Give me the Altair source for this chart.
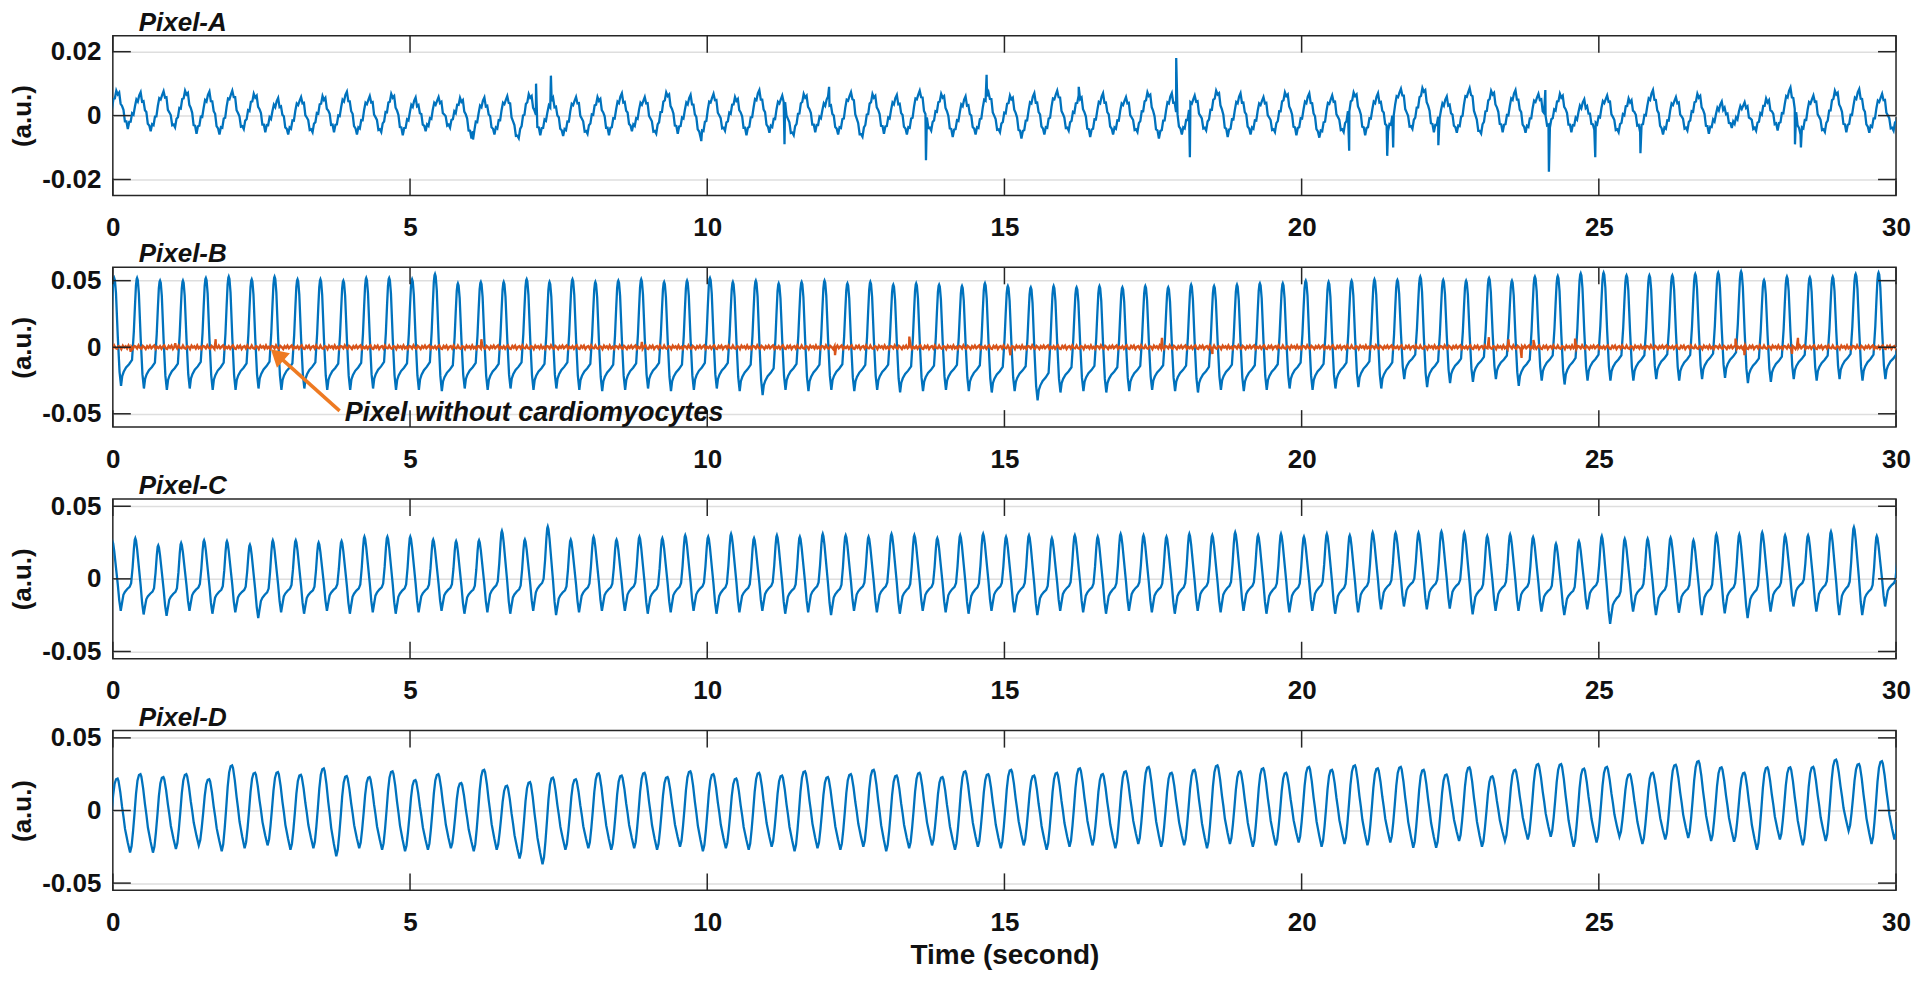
import altair as alt
import pandas as pd

FONT = "Liberation Sans"
W, H = 1786, 160
BLUE = "#0072BD"
ORANGE = "#D95319"
ARROWC = "#EE7A22"
FRAME = "#262626"
TXT = "#111111"
LW = 2.3

XTICKS = [0, 5, 10, 15, 20, 25, 30]

BEAT_T = [-0.363, 0.023, 0.408, 0.794, 1.179, 1.565, 1.950, 2.336, 2.721, 3.107, 3.492, 3.878,
          4.263, 4.649, 5.034, 5.420, 5.805, 6.191, 6.576, 6.962, 7.347, 7.733, 8.118, 8.504,
          8.889, 9.275, 9.660, 10.046, 10.431, 10.817, 11.202, 11.588, 11.973, 12.359, 12.744,
          13.130, 13.515, 13.901, 14.286, 14.672, 15.057, 15.443, 15.828, 16.214, 16.599, 16.985,
          17.370, 17.756, 18.141, 18.527, 18.912, 19.298, 19.683, 20.069, 20.454, 20.840, 21.225,
          21.611, 21.996, 22.382, 22.767, 23.153, 23.538, 23.924, 24.309, 24.695, 25.080, 25.466,
          25.851, 26.237, 26.622, 27.008, 27.393, 27.779, 28.164, 28.550, 28.935, 29.321, 29.706,
          30.092]
# timing offset of each pixel's beats relative to Pixel-B (s)
LAG = {"A": 0.06, "B": 0.0, "C": -0.03, "D": 0.057}

# ---- per-beat peak / trough values (a.u.) ----
A_PEAK = [0.005, 0.007,
          0.0063, 0.0068, 0.007, 0.0065, 0.007, 0.006, 0.0045, 0.005, 0.0053, 0.0065, 0.0053,
          0.006, 0.0047, 0.005, 0.0047, 0.0047, 0.0053, 0.006, 0.0045, 0.005, 0.005,
          0.006, 0.005, 0.0065, 0.0055, 0.006, 0.005, 0.007, 0.0055, 0.006, 0.005, 0.0065, 0.006,
          0.0055, 0.007, 0.006, 0.005, 0.0065, 0.0055, 0.006, 0.007, 0.0055, 0.006, 0.005, 0.0065,
          0.006, 0.0055, 0.007, 0.006, 0.005, 0.0065, 0.006, 0.0055, 0.0065, 0.006,
          0.0076, 0.0079, 0.005, 0.0078, 0.007, 0.007, 0.006, 0.006, 0.0041, 0.0055, 0.0045,
          0.007, 0.005, 0.006, 0.0034, 0.0034, 0.0045, 0.0078, 0.0055, 0.007, 0.0073, 0.006,
          0.005]
A_TROUGH = [-0.003, -0.003,
            -0.004, -0.003, -0.0045, -0.005, -0.0035, -0.004, -0.005, -0.0045, -0.004, -0.005,
            -0.0045, -0.005, -0.004, -0.003, -0.006, -0.005, -0.0065, -0.005, -0.0055, -0.005,
            -0.005,
            -0.004, -0.005, -0.0045, -0.006, -0.004, -0.005, -0.0045, -0.0055, -0.004, -0.005,
            -0.006, -0.0045, -0.005, -0.004, -0.0055, -0.005, -0.0045, -0.006, -0.005, -0.004,
            -0.0055, -0.005, -0.0045, -0.006, -0.005, -0.004, -0.0055, -0.005, -0.0045, -0.005,
            -0.006, -0.0045, -0.005, -0.004,
            -0.0035, -0.004, -0.0045, -0.005, -0.004, -0.0045, -0.003, -0.004, -0.0035, -0.0045,
            -0.004, -0.005, -0.004, -0.0045, -0.003, -0.004, -0.0035, -0.005, -0.0045, -0.004,
            -0.0045, -0.004,
            -0.004]
B_PEAK = [0.050, 0.052,
          0.052, 0.050, 0.050, 0.052, 0.053, 0.051, 0.053, 0.051, 0.051, 0.050, 0.052, 0.052,
          0.051, 0.055, 0.048, 0.049, 0.049, 0.051, 0.049, 0.051, 0.049,
          0.050, 0.051, 0.049, 0.050, 0.052, 0.049, 0.050, 0.048, 0.049, 0.050, 0.048, 0.049,
          0.047, 0.048, 0.047, 0.046, 0.048, 0.046, 0.045, 0.046, 0.045, 0.046, 0.045, 0.046,
          0.045, 0.047, 0.046, 0.047, 0.048, 0.048, 0.050, 0.049, 0.050, 0.051,
          0.0505, 0.053, 0.0505, 0.050, 0.052, 0.050, 0.053, 0.0535, 0.0555, 0.056, 0.054,
          0.054, 0.054, 0.055, 0.056, 0.057, 0.0505, 0.053, 0.0525, 0.053, 0.055, 0.056,
          0.054]
B_TROUGH = [-0.030, -0.029,
            -0.031, -0.032, -0.031, -0.032, -0.032, -0.031, -0.032, -0.031, -0.032, -0.032,
            -0.031, -0.032, -0.032, -0.033, -0.031, -0.032, -0.031, -0.032, -0.031, -0.032,
            -0.033,
            -0.032, -0.031, -0.033, -0.032, -0.031, -0.033, -0.036, -0.032, -0.033, -0.032,
            -0.033, -0.032, -0.034, -0.033, -0.032, -0.033, -0.034, -0.033, -0.040, -0.034,
            -0.033, -0.034, -0.033, -0.032, -0.033, -0.034, -0.032, -0.033, -0.032, -0.031,
            -0.032, -0.031, -0.030, -0.031,
            -0.024, -0.030, -0.027, -0.026, -0.024, -0.029, -0.025, -0.028, -0.025, -0.025,
            -0.025, -0.024, -0.025, -0.024, -0.023, -0.027, -0.026, -0.024, -0.025, -0.024,
            -0.025, -0.024,
            -0.025]
C_PEAK = [0.025, 0.026,
          0.028, 0.023, 0.0247, 0.0265, 0.026, 0.0235, 0.0265, 0.0265, 0.025, 0.026, 0.029,
          0.029, 0.029, 0.027, 0.026, 0.0265, 0.033, 0.027, 0.036, 0.027, 0.029,
          0.027, 0.029, 0.028, 0.030, 0.029, 0.031, 0.028, 0.030, 0.029, 0.031, 0.030, 0.029,
          0.031, 0.030, 0.028, 0.030, 0.031, 0.029, 0.030, 0.028, 0.030, 0.029, 0.031, 0.030,
          0.029, 0.031, 0.030, 0.032, 0.030, 0.031, 0.029, 0.031, 0.030, 0.032,
          0.0317, 0.0317, 0.0326, 0.0317, 0.0295, 0.0306, 0.0288, 0.0242, 0.026, 0.0295,
          0.0276, 0.0276, 0.0283, 0.0265, 0.0306, 0.0306, 0.032, 0.030, 0.030, 0.0326, 0.0356,
          0.0295,
          0.030]
C_TROUGH = [-0.022, -0.022,
            -0.0245, -0.0255, -0.022, -0.024, -0.023, -0.027, -0.023, -0.024, -0.022, -0.024,
            -0.023, -0.024, -0.023, -0.022, -0.024, -0.023, -0.024, -0.022, -0.025, -0.023,
            -0.022,
            -0.022, -0.024, -0.023, -0.022, -0.024, -0.023, -0.022, -0.024, -0.023, -0.025,
            -0.022, -0.023, -0.024, -0.022, -0.023, -0.024, -0.022, -0.023, -0.025, -0.022,
            -0.023, -0.024, -0.022, -0.023, -0.024, -0.022, -0.023, -0.022, -0.024, -0.023,
            -0.022, -0.024, -0.023, -0.021,
            -0.019, -0.021, -0.0205, -0.0244, -0.022, -0.022, -0.0225, -0.025, -0.021, -0.031,
            -0.0225, -0.025, -0.0233, -0.025, -0.0237, -0.027, -0.0225, -0.019, -0.0225, -0.025,
            -0.025, -0.019,
            -0.020]
D_PEAK = [0.020, 0.022,
          0.025, 0.023, 0.025, 0.0215, 0.031, 0.026, 0.0265, 0.0245, 0.029, 0.0237, 0.023,
          0.027, 0.021, 0.025, 0.019, 0.028, 0.017, 0.0196, 0.0226, 0.0215, 0.0256,
          0.024, 0.026, 0.023, 0.027, 0.025, 0.022, 0.026, 0.024, 0.027, 0.023, 0.025, 0.028,
          0.024, 0.026, 0.023, 0.027, 0.025, 0.028, 0.024, 0.026, 0.029, 0.025, 0.027, 0.030,
          0.026, 0.028, 0.031, 0.027, 0.029, 0.026, 0.030, 0.028, 0.031, 0.029,
          0.030, 0.028, 0.0247, 0.0297, 0.0235, 0.028, 0.032, 0.032, 0.0288, 0.030, 0.025,
          0.026, 0.0315, 0.034, 0.0297, 0.026, 0.0297, 0.0297, 0.030, 0.035, 0.032, 0.034,
          0.030]
D_TROUGH = [-0.025, -0.029,
            -0.029, -0.0265, -0.024, -0.028, -0.026, -0.024, -0.027, -0.026, -0.0315, -0.026,
            -0.027, -0.028, -0.027, -0.026, -0.028, -0.027, -0.033, -0.037, -0.027, -0.026,
            -0.027,
            -0.026, -0.027, -0.025, -0.028, -0.026, -0.027, -0.025, -0.028, -0.026, -0.027,
            -0.025, -0.028, -0.026, -0.024, -0.027, -0.025, -0.026, -0.024, -0.027, -0.025,
            -0.024, -0.026, -0.023, -0.025, -0.024, -0.026, -0.023, -0.025, -0.024, -0.022,
            -0.025, -0.023, -0.024, -0.022,
            -0.0256, -0.0256, -0.021, -0.025, -0.021, -0.020, -0.018, -0.025, -0.022, -0.018,
            -0.023, -0.020, -0.019, -0.021, -0.0215, -0.027, -0.020, -0.024, -0.021, -0.014,
            -0.023, -0.020,
            -0.022]

# fine ripple seen on the Pixel-A trace and on the flat (orange) trace, in 1e-3 a.u.
A_RIPPLE = [0.8, -0.5, 1.1, -0.9, 0.3, 1.2, -0.7, 0.2, -1.1, 0.6, -0.3, 0.9, -1.0, 0.4, -0.6, 1.1,
            -0.4, 0.9, -1.1, 0.2, 1.0, -0.8, 0.5, -1.2, 0.7, -0.2, 1.1, -0.9, 0.1, 0.8, -1.0, 0.3,
            1.0, -1.2, 0.5, -0.3, 1.2, -0.6, 0.2, -0.9, 0.9, -0.5, 0.7, -1.1, 0.3, 1.0, -0.7, -0.1]
O_RIPPLE = [0.8, -1.2, 0.5, 1.4, -0.8, -1.3, 1.0, -0.4, 1.2, -1.4, 0.3, 0.9, -1.0, 1.3, -0.5, -0.9,
            1.3, -0.7, -1.2, 0.8, 0.4, -1.5, 1.2, -0.3, 0.7, -1.0, 1.4, -0.8, 0.3, -1.3, 0.9, 0.5,
            -0.9, 1.5, -0.4, -1.2, 1.0, 0.1, -1.4, 0.8, -0.5, 1.2, -0.8, 0.4, 1.3, -1.2, 0.3, -0.7]

# isolated spikes (time s, value a.u.)
A_SPIKE_T = [6.06, 7.12, 7.37, 9.9, 11.3, 12.05, 13.68, 14.7, 16.25, 17.89, 18.12, 20.8, 21.44,
             21.54, 22.3, 24.10, 24.16, 24.94, 25.70, 28.30, 28.40]
A_SPIKE_V = [-0.0075, 0.010, 0.0125, -0.008, -0.009, 0.009, -0.014, 0.0128, 0.009, 0.018, -0.013,
             -0.011, -0.0126, -0.010, -0.0093, 0.008, -0.0176, -0.013, -0.0118, -0.009, -0.010]
O_SPIKE_T = [0.30, 1.05, 1.73, 6.20, 8.9, 12.15, 13.40, 15.10, 17.65, 18.50, 23.15, 23.48, 23.70,
             23.90, 24.60, 27.30, 27.45, 28.25, 28.35]
O_SPIKE_V = [-0.0035, 0.003, 0.006, 0.006, 0.004, -0.006, 0.008, -0.006, 0.007, -0.005, 0.0075,
             0.006, -0.008, 0.0055, 0.0065, 0.0065, -0.006, -0.005, 0.007]

# annotation (Pixel-B axes)
ANN_TEXT = "Pixel without cardiomyocytes"
ANN_TEXT_T, ANN_TEXT_V = 3.90, -0.0552
ARROW_TAIL = (3.815, -0.0478)
ARROW_HEAD = (2.80, -0.0072)

# waveform shapes per beat: (time after peak, fraction between trough and peak, f=falling/r=rising)
SHAPE_B = [(0.000, 1.00, "f"), (0.012, 0.98, "f"), (0.030, 0.86, "f"), (0.060, 0.46, "f"),
           (0.090, 0.13, "f"), (0.115, 0.00, "f"), (0.135, 0.09, "r"), (0.160, 0.13, "r"),
           (0.200, 0.17, "r"), (0.250, 0.20, "r"), (0.300, 0.24, "r"), (0.330, 0.50, "r"),
           (0.350, 0.75, "r"), (0.366, 0.93, "r"), (0.378, 0.99, "r")]
SHAPE_C = [(0.000, 1.00, "f"), (0.012, 0.97, "f"), (0.030, 0.86, "f"), (0.060, 0.62, "f"),
           (0.090, 0.38, "f"), (0.115, 0.15, "f"), (0.140, 0.00, "f"), (0.160, 0.10, "r"),
           (0.185, 0.22, "r"), (0.210, 0.26, "r"), (0.250, 0.30, "r"), (0.290, 0.33, "r"),
           (0.315, 0.38, "r"), (0.340, 0.60, "r"), (0.362, 0.86, "r"), (0.376, 0.98, "r")]
SHAPE_D = [(0.000, 1.00, "f"), (0.015, 0.97, "f"), (0.045, 0.82, "f"), (0.075, 0.62, "f"),
           (0.100, 0.48, "f"), (0.125, 0.32, "f"), (0.145, 0.24, "f"), (0.170, 0.14, "f"),
           (0.210, 0.00, "f"), (0.235, 0.08, "r"), (0.260, 0.27, "r"), (0.285, 0.50, "r"),
           (0.310, 0.75, "r"), (0.335, 0.92, "r"), (0.360, 0.99, "r")]
SHAPE_A = [(0.000, 1.00, "f"), (0.024, 0.93, "f"), (0.048, 0.78, "f"), (0.072, 0.58, "f"),
           (0.096, 0.38, "f"), (0.120, 0.20, "f"), (0.145, 0.07, "f"), (0.169, 0.00, "f"),
           (0.193, 0.04, "r"), (0.217, 0.14, "r"), (0.241, 0.28, "r"), (0.265, 0.45, "r"),
           (0.289, 0.62, "r"), (0.313, 0.78, "r"), (0.337, 0.90, "r"), (0.361, 0.97, "r")]

for arr in (A_PEAK, A_TROUGH, B_PEAK, B_TROUGH, C_PEAK, C_TROUGH, D_PEAK, D_TROUGH):
    assert len(arr) == len(BEAT_T), len(arr)


def beat_wave(peaks, troughs, lag, shape, ripple=None, spikes_t=(), spikes_v=()):
    ts, vs = [], []
    n = len(shape)
    for i in range(len(BEAT_T) - 1):
        t0 = BEAT_T[i] + lag
        p, q, pn = peaks[i], troughs[i], peaks[i + 1]
        for j, (dt, f, seg) in enumerate(shape):
            top = p if seg == "f" else pn
            v = q + f * (top - q)
            if ripple is not None:
                v += ripple[(i % 3) * n + j] * 1e-3
            ts.append(t0 + dt)
            vs.append(v)
    ts += list(spikes_t)
    vs += list(spikes_v)
    return pd.DataFrame({"t": ts, "v": vs}).sort_values("t")


def flat_wave(lag, shape, ripple, spikes_t, spikes_v):
    zeros = [0.0] * len(BEAT_T)
    return beat_wave(zeros, zeros, lag, shape, ripple, spikes_t, spikes_v)


dfA = beat_wave(A_PEAK, A_TROUGH, LAG["A"], SHAPE_A, A_RIPPLE, A_SPIKE_T, A_SPIKE_V)
dfB = beat_wave(B_PEAK, B_TROUGH, LAG["B"], SHAPE_B)
dfO = flat_wave(LAG["B"], SHAPE_A, O_RIPPLE, O_SPIKE_T, O_SPIKE_V)
dfC = beat_wave(C_PEAK, C_TROUGH, LAG["C"], SHAPE_C)
dfD = beat_wave(D_PEAK, D_TROUGH, LAG["D"], SHAPE_D)

YLABEL = ("datum.value < 0 ? '-' + format(-datum.value, '.2f') : "
          "(datum.value == 0 ? '0' : format(datum.value, '.2f'))")


def panel(name, layers_data, ydom, yticks, extra=(), xtitle=None):
    xs = alt.Scale(domain=[0, 30], nice=False, zero=False)
    ys = alt.Scale(domain=ydom, nice=False, zero=False)
    xaxis = alt.Axis(values=XTICKS, grid=False, labelPadding=19, labelFlush=False,
                     title=xtitle if xtitle else None, titleFontSize=28, titlePadding=6,
                     format="d")
    yaxis = alt.Axis(values=yticks, grid=True, labelExpr=YLABEL, title="(a.u.)",
                     titlePadding=6, labelPadding=12)

    def X(field):
        return alt.X(field, type="quantitative", scale=xs, axis=xaxis)

    def Y(field):
        return alt.Y(field, type="quantitative", scale=ys, axis=yaxis)

    layers = []
    for df, color in layers_data:
        layers.append(
            alt.Chart(df).mark_line(color=color, strokeWidth=LW, clip=True).encode(
                x=X("t"), y=Y("v"))
        )
    xt = pd.DataFrame({"tick": XTICKS})
    yt = pd.DataFrame({"tick": yticks})
    rule = dict(color=FRAME, strokeWidth=1.5)
    layers.append(alt.Chart(xt).mark_rule(**rule).encode(
        x=X("tick"), y=alt.value(0), y2=alt.value(17)))
    layers.append(alt.Chart(xt).mark_rule(**rule).encode(
        x=X("tick"), y=alt.value(H - 17), y2=alt.value(H)))
    layers.append(alt.Chart(yt).mark_rule(**rule).encode(
        y=Y("tick"), x=alt.value(0), x2=alt.value(18)))
    layers.append(alt.Chart(yt).mark_rule(**rule).encode(
        y=Y("tick"), x=alt.value(W - 18), x2=alt.value(W)))
    layers.append(
        alt.Chart(pd.DataFrame({"label": [name]})).mark_text(
            align="left", baseline="alphabetic", fontSize=26, fontWeight="bold",
            fontStyle="italic", font=FONT, color=TXT
        ).encode(x=alt.value(26), y=alt.value(-5), text="label:N")
    )
    for mk in extra:
        layers.append(mk(X, Y))
    return alt.layer(*layers).properties(width=W, height=H)


def arrow_shaft(X, Y):
    d = pd.DataFrame({"x1": [ARROW_TAIL[0]], "y1": [ARROW_TAIL[1]],
                      "x2": [ARROW_HEAD[0] + 0.03], "y2": [ARROW_HEAD[1] - 0.0012]})
    return alt.Chart(d).mark_rule(color=ARROWC, strokeWidth=3.5).encode(
        x=X("x1"), y=Y("y1"), x2="x2:Q", y2="y2:Q")


def arrow_head(X, Y):
    d = pd.DataFrame({"x": [ARROW_HEAD[0]], "y": [ARROW_HEAD[1]]})
    return alt.Chart(d).mark_point(shape="triangle", filled=True, size=380, angle=312,
                                   color=ARROWC, opacity=1, strokeWidth=0).encode(
        x=X("x"), y=Y("y"))


def arrow_text(X, Y):
    d = pd.DataFrame({"x": [ANN_TEXT_T], "y": [ANN_TEXT_V], "label": [ANN_TEXT]})
    return alt.Chart(d).mark_text(align="left", baseline="alphabetic", fontSize=27,
                                  fontWeight="bold", fontStyle="italic", font=FONT,
                                  color=TXT).encode(
        x=X("x"), y=Y("y"), text="label:N")


pA = panel("Pixel-A", [(dfA, BLUE)], [-0.025, 0.025], [-0.02, 0, 0.02])
pB = panel("Pixel-B", [(dfB, BLUE), (dfO, ORANGE)], [-0.06, 0.06], [-0.05, 0, 0.05],
           extra=(arrow_shaft, arrow_head, arrow_text))
pC = panel("Pixel-C", [(dfC, BLUE)], [-0.055, 0.055], [-0.05, 0, 0.05])
pD = panel("Pixel-D", [(dfD, BLUE)], [-0.055, 0.055], [-0.05, 0, 0.05], xtitle="Time (second)")

chart = alt.vconcat(pA, pB, pC, pD, spacing=72, bounds="flush").properties(
    padding={"left": 0, "top": 0, "right": 0, "bottom": 0}, background="white"
).configure_view(stroke=FRAME, strokeWidth=1.5).configure_axis(
    domain=False, ticks=False, tickSize=0,
    labelFont=FONT, labelFontSize=26, labelFontWeight="bold", labelColor=TXT,
    titleFont=FONT, titleFontSize=26, titleFontWeight="bold", titleColor=TXT,
    gridColor="#dedede", gridWidth=1.5,
)

chart.save("out.html", embed_options={"renderer": "svg", "actions": False})
